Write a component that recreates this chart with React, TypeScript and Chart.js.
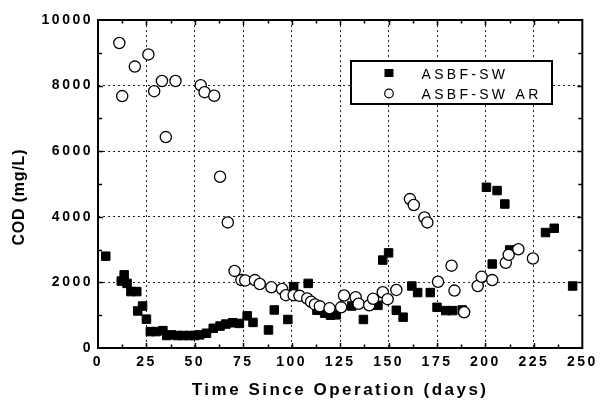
import React, { useEffect, useRef } from "react";
import { Chart, registerables } from "chart.js";

Chart.register(...registerables);

// ASBF-SW (filled squares)
const swDays = [4, 12, 13.5, 15, 17, 20, 20.5, 23, 25, 27, 30, 33.5, 35.5, 38, 41, 44, 47, 50, 52.5, 56, 59.5, 63, 66, 69.5, 73, 77, 80, 88, 91, 98, 101, 108.5, 113, 117, 120, 123, 131, 137, 144.5, 147, 150, 154, 157.5, 162, 165, 171.5, 175, 179.5, 183, 188, 200.5, 203.5, 206, 210, 212.5, 231, 235.5, 245];
const swCod = [2800, 2040, 2230, 1970, 1720, 1720, 1130, 1280, 880, 500, 500, 530, 380, 400, 380, 380, 380, 380, 400, 450, 600, 670, 730, 770, 750, 980, 780, 550, 1160, 870, 1870, 1970, 1150, 1060, 1000, 1010, 1280, 870, 1300, 2680, 2900, 1150, 940, 1890, 1690, 1690, 1240, 1140, 1140, 1160, 4900, 2560, 4800, 4390, 2990, 3520, 3650, 1890];

// ASBF-SW AR (open circles)
const arDays = [11, 12.5, 19, 26, 29, 33, 35, 40, 53, 55, 60, 63, 67, 70.5, 74, 76, 81, 83.5, 89.5, 95, 97, 101, 104, 108, 110, 112, 114.5, 119.5, 125.5, 127, 133, 134.5, 140, 142, 147, 149.5, 154, 161, 163, 168.5, 170, 175.5, 182.5, 184, 189, 196, 198, 203.5, 210.5, 212, 217, 224.5];
const arCod = [9300, 7680, 8580, 8950, 7830, 8140, 6430, 8140, 8010, 7800, 7690, 5220, 3830, 2350, 2070, 2060, 2070, 1950, 1850, 1800, 1610, 1610, 1590, 1510, 1410, 1330, 1270, 1210, 1240, 1600, 1550, 1350, 1300, 1500, 1700, 1490, 1770, 4540, 4360, 3980, 3830, 2020, 2510, 1750, 1090, 1890, 2170, 2070, 2600, 2840, 3010, 2730];

const seriesNames = ["ASBF-SW", "ASBF-SW AR"];
const xTickValues = [0, 25, 50, 75, 100, 125, 150, 175, 200, 225, 250];
const xTickLabels = ["0", "25", "50", "75", "100", "125", "150", "175", "200", "225", "250"];
const yTickValues = [0, 2000, 4000, 6000, 8000, 10000];
const yTickLabels = ["0", "2000", "4000", "6000", "8000", "10000"];
const xTitle = "Time Since Operation (days)";
const yTitle = "COD (mg/L)";

const FONT = "'Liberation Sans', Arial, Helvetica, sans-serif";

const decorPlugin = {
  id: "decor",
  beforeDraw(chart: any) {
    const ctx = chart.ctx;
    ctx.letterSpacing = "2.5px";
    const ys: any = chart.scales.y;
    if (ys && !ys.__patched) {
      const orig = ys.drawTitle;
      ys.drawTitle = function () {
        const c = this.ctx;
        const prev = c.letterSpacing;
        c.letterSpacing = "0.8px";
        orig.call(this);
        c.letterSpacing = prev;
      };
      ys.__patched = true;
    }
  },
  afterDraw(chart: any) {
    const ctx = chart.ctx;
    const { left, right, top, bottom } = chart.chartArea;
    const xs = chart.scales.x;
    const ys = chart.scales.y;
    ctx.save();
    ctx.letterSpacing = "0px";
    ctx.strokeStyle = "#000";
    ctx.lineWidth = 1.5;
    ctx.setLineDash([]);
    ctx.beginPath();
    for (let v = 12.5; v < 250; v += 12.5) {
      const px = Math.round(xs.getPixelForValue(v)) + 0.5;
      const len = v % 25 === 0 ? 5 : 3.5;
      ctx.moveTo(px, bottom);
      ctx.lineTo(px, bottom - len);
      ctx.moveTo(px, top);
      ctx.lineTo(px, top + len);
    }
    for (let v = 1000; v < 10000; v += 1000) {
      const py = Math.round(ys.getPixelForValue(v)) + 0.5;
      const len = v % 2000 === 0 ? 5 : 4;
      ctx.moveTo(left, py);
      ctx.lineTo(left + len, py);
      ctx.moveTo(right, py);
      ctx.lineTo(right - len, py);
    }
    ctx.stroke();
    // frame
    ctx.lineWidth = 2;
    ctx.strokeRect(left, top, right - left, bottom - top);

    // legend
    const lx = 351, ly = 61, lw = 201, lh = 43;
    ctx.fillStyle = "#fff";
    ctx.fillRect(lx, ly, lw, lh);
    ctx.lineWidth = 2;
    ctx.strokeStyle = "#000";
    ctx.strokeRect(lx, ly, lw, lh);
    const ds = chart.data.datasets;
    ctx.font = `14px ${FONT}`;
    ctx.letterSpacing = "3.3px";
    ctx.textAlign = "left";
    ctx.textBaseline = "alphabetic";
    // square marker
    ctx.fillStyle = "#000";
    ctx.fillRect(384.5, 69, 9, 8);
    ctx.fillText(ds[0].label, 421.5, 79);
    // circle marker
    ctx.beginPath();
    ctx.lineWidth = 1.2;
    ctx.arc(389, 93.5, 4.3, 0, Math.PI * 2);
    ctx.fillStyle = "#fff";
    ctx.fill();
    ctx.stroke();
    ctx.fillStyle = "#000";
    ctx.fillText(ds[1].label, 421.5, 99);
    ctx.restore();
  },
};

export default function App() {
  const ref = useRef<HTMLCanvasElement>(null);
  useEffect(() => {
    if (!ref.current) return;
    Chart.defaults.font.family = FONT;
    Chart.defaults.color = "#000";
    const swPoints = swDays.map((d, i) => ({ x: d, y: swCod[i] }));
    const arPoints = arDays.map((d, i) => ({ x: d, y: arCod[i] }));
    const chart = new Chart(ref.current, {
      type: "scatter",
      data: {
        datasets: [
          {
            label: seriesNames[0],
            data: swPoints,
            pointStyle: "rect",
            pointRadius: 6,
            backgroundColor: "#000",
            borderColor: "#000",
            borderWidth: 1,
            order: 1,
          },
          {
            label: seriesNames[1],
            data: arPoints,
            pointStyle: "circle",
            pointRadius: 5.6,
            backgroundColor: "#fff",
            borderColor: "#000",
            borderWidth: 1.3,
            order: 0,
          },
        ],
      },
      options: {
        responsive: false,
        animation: false,
        devicePixelRatio: 1,
        layout: { padding: { top: 20, right: 17, left: 0, bottom: 0 } },
        plugins: {
          legend: { display: false },
          tooltip: { enabled: false },
        },
        scales: {
          x: {
            type: "linear",
            min: 0,
            max: 250,
            afterBuildTicks: (scale: any) => {
              scale.ticks = xTickValues.map((v) => ({ value: v }));
            },
            afterFit: (scale: any) => {
              scale.height = 53;
            },
            ticks: {
              callback: (v: any) => xTickLabels[xTickValues.indexOf(Number(v))] ?? "",
              font: { size: 14, weight: "bold" },
              color: "#000",
              padding: 6,
              maxRotation: 0,
            },
            grid: {
              color: "#222",
              lineWidth: 1,
              drawTicks: false,
            },
            border: { display: false, dash: [2, 3] },
            title: {
              display: true,
              text: xTitle,
              font: { size: 17, weight: "bold" },
              color: "#000",
              padding: { top: 0, bottom: 0 },
            },
          },
          y: {
            type: "linear",
            min: 0,
            max: 10000,
            afterBuildTicks: (scale: any) => {
              scale.ticks = yTickValues.map((v) => ({ value: v }));
            },
            afterFit: (scale: any) => {
              scale.width = 98;
            },
            ticks: {
              callback: (v: any) => yTickLabels[yTickValues.indexOf(Number(v))] ?? "",
              font: { size: 14, weight: "bold" },
              color: "#000",
              padding: 5,
            },
            grid: {
              color: "#222",
              lineWidth: 1,
              drawTicks: false,
            },
            border: { display: false, dash: [2, 3] },
            title: {
              display: true,
              text: yTitle + "     ",
              font: { size: 16, weight: "bold" },
              color: "#000",
              padding: { top: 10, bottom: 0 },
            },
          },
        },
      },
      plugins: [decorPlugin],
    } as any);
    return () => chart.destroy();
  }, []);
  return (
    <div style={{ position: "fixed", left: 0, top: 0, width: 600, height: 401, background: "#fff" }}>
      <canvas ref={ref} width={600} height={401} style={{ display: "block", width: 600, height: 401 }} />
    </div>
  );
}
